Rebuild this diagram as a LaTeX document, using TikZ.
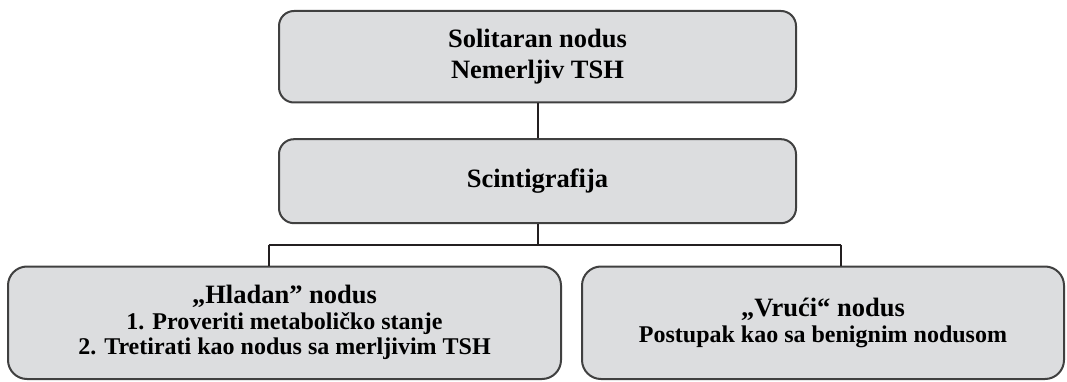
\documentclass[tikz,border=0pt]{standalone}
\usepackage{fontspec}
\setmainfont{Liberation Serif}
\definecolor{boxfill}{HTML}{DCDDDF}
\definecolor{boxline}{HTML}{404040}
\definecolor{wire}{HTML}{231F20}
\begin{document}
\begin{tikzpicture}[x=1pt, y=-1pt,
  box/.style={draw=boxline, fill=boxfill, line width=2pt, rounded corners=15pt,
    align=center, inner sep=0pt, font=\bfseries},
  lowbox/.style={box, rounded corners=19pt, minimum height=112.5pt,
    font=\fontsize{24}{25.5}\selectfont\bfseries},
  wire/.style={draw=wire, line width=2pt}]
\useasboundingbox (0,0) rectangle (1067,382);

% decision chain
\node[box, minimum width=517pt, minimum height=91.5pt,
  font=\fontsize{26.5}{31}\selectfont\bfseries] (start) at (537.5,56.75)
  {Solitaran nodus\\Nemerljiv TSH};
\node[box, minimum width=517pt, minimum height=84pt,
  font=\fontsize{26.5}{31}\selectfont\bfseries] (scint) at (537.5,181.2)
  {Scintigrafija};
\node[lowbox, minimum width=553pt] (cold) at (284.5,322.75)
  {{\fontsize{26.5}{25.5}\selectfont „Hladan” nodus}\\
   1. Proveriti metaboličko stanje\\
   2. Tretirati kao nodus sa merljivim TSH};
\node[lowbox, minimum width=482pt] (hot) at (823,322.75)
  {{\fontsize{26.5}{26}\selectfont „Vrući“ nodus}\\
   Postupak kao sa benignim nodusom};

% connectors
\coordinate (bus) at (537.5,244.5);
\coordinate (lj) at (268.5,244.5);
\coordinate (rj) at (840.5,244.5);
\draw[wire] (start.south) -- (scint.north);
\draw[wire] (scint.south) -- (bus);
\draw[wire] (lj) -- (rj);
\draw[wire] (lj) -- (lj |- cold.north);
\draw[wire] (rj) -- (rj |- hot.north);
\end{tikzpicture}
\end{document}
